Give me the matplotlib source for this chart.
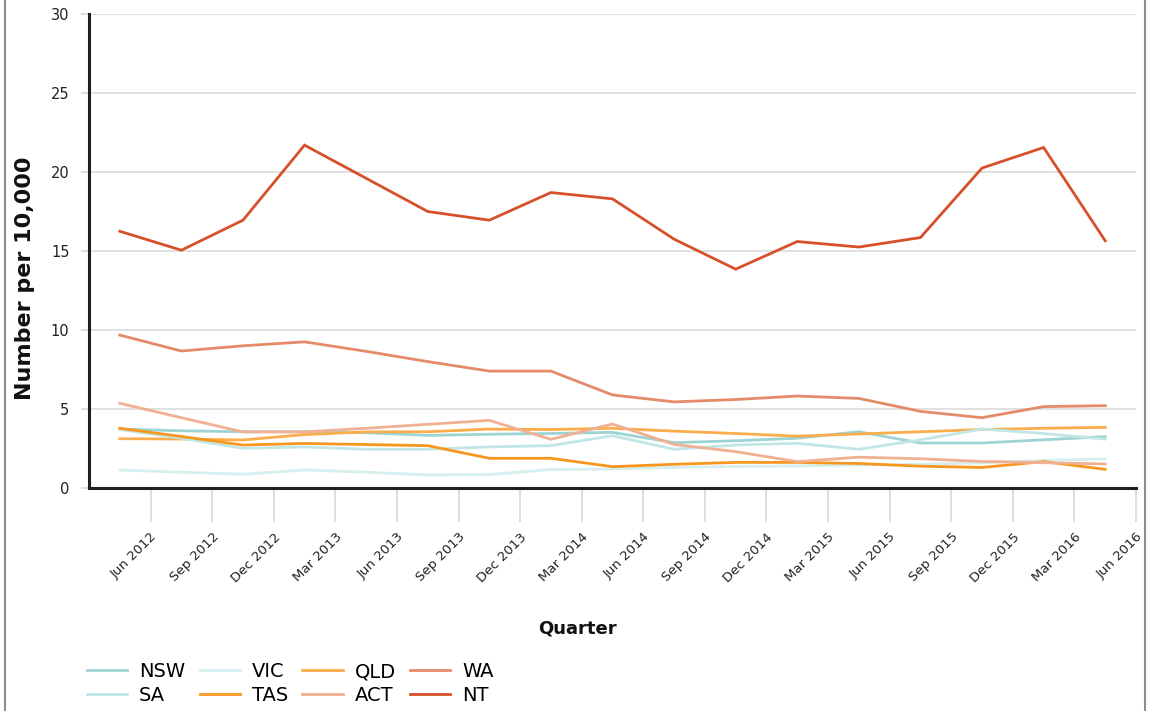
import matplotlib
matplotlib.use('Agg')
import matplotlib.pyplot as plt
import numpy as np
from matplotlib.lines import Line2D

tick_labels = ['Jun 2012', 'Sep 2012', 'Dec 2012', 'Mar 2013', 'Jun 2013', 'Sep 2013',
               'Dec 2013', 'Mar 2014', 'Jun 2014', 'Sep 2014', 'Dec 2014', 'Mar 2015',
               'Jun 2015', 'Sep 2015', 'Dec 2015', 'Mar 2016', 'Jun 2016']

nsw = [3.73, 3.62, 3.56, 3.56, 3.50, 3.33, 3.40, 3.45, 3.52, 2.87, 2.99, 3.15, 3.56, 2.85, 2.85, 3.05, 3.25]
vic = [1.14, 1.00, 0.87, 1.14, 1.00, 0.83, 0.85, 1.17, 1.20, 1.30, 1.36, 1.40, 1.45, 1.50, 1.60, 1.75, 1.84]
qld = [3.12, 3.10, 3.04, 3.38, 3.55, 3.56, 3.73, 3.70, 3.78, 3.60, 3.45, 3.28, 3.42, 3.56, 3.70, 3.78, 3.84]
wa = [9.68, 8.67, 9.00, 9.25, 8.65, 8.00, 7.40, 7.40, 5.89, 5.45, 5.60, 5.82, 5.67, 4.85, 4.45, 5.15, 5.21]
sa = [3.70, 3.15, 2.51, 2.60, 2.45, 2.45, 2.60, 2.68, 3.31, 2.45, 2.72, 2.83, 2.45, 3.05, 3.73, 3.45, 3.10]
tas = [3.78, 3.26, 2.72, 2.82, 2.75, 2.68, 1.88, 1.88, 1.35, 1.50, 1.62, 1.62, 1.55, 1.38, 1.30, 1.67, 1.18]
act = [5.36, 4.45, 3.55, 3.55, 3.78, 4.03, 4.28, 3.08, 4.05, 2.76, 2.30, 1.67, 1.95, 1.85, 1.68, 1.60, 1.52]
nt = [16.25, 15.05, 16.95, 21.70, 19.60, 17.50, 16.95, 18.70, 18.30, 15.75, 13.85, 15.60, 15.25, 15.85, 20.25, 21.55, 15.65]

series = [('NSW', nsw, '#9dd3d2'), ('VIC', vic, '#d6eeee'), ('QLD', qld, '#fbad4c'),
          ('WA', wa, '#e38b69'), ('SA', sa, '#c2e5e5'), ('TAS', tas, '#f8971f'),
          ('ACT', act, '#f0b092'), ('NT', nt, '#d7502a')]

W, H = 1157, 711
fig = plt.figure(figsize=(W / 100, H / 100), dpi=100)
ax = fig.add_axes([89 / W, 1 - 488 / H, (1136 - 89) / W, (488 - 14) / H])

x = np.arange(len(nt)) + 0.5
handles = {}
for name, vals, col in series:
    ln, = ax.plot(x, vals, color=col, lw=2.0, label=name, solid_joinstyle='miter')
    handles[name] = ln

ax.set_xlim(0, 17)
ax.set_ylim(0, 30)
ax.set_yticks(np.arange(0, 31, 5))
ax.set_xticks(np.arange(1, 18))
ax.set_xticklabels(tick_labels, rotation=45, ha='right', va='top', rotation_mode='anchor')
ax.tick_params(axis='y', length=6, color='#d9d9d9', width=1.2, pad=8, labelsize=10.5, labelcolor='#222222')
ax.tick_params(axis='x', length=24.5, color='#d9d9d9', width=1.2, pad=6, labelsize=9.5, labelcolor='#222222')
ax.yaxis.grid(True, color='#dcdcdc', lw=1.2)
ax.set_axisbelow(True)
for s in ['top', 'right']:
    ax.spines[s].set_visible(False)
for s in ['left', 'bottom']:
    ax.spines[s].set_color('#231f20')
    ax.spines[s].set_linewidth(2.2)

ax.set_ylabel('Number per 10,000', fontsize=16, fontweight='bold', color='#111111')
ax.yaxis.set_label_coords((35 - 89) / (1136 - 89), (488 - 278) / (488 - 14))
ax.set_xlabel('Quarter', fontsize=13, fontweight='bold', color='#111111')
ax.xaxis.set_label_coords((577 - 89) / (1136 - 89), (488 - 619) / (488 - 14))

order = ['NSW', 'SA', 'VIC', 'TAS', 'QLD', 'ACT', 'WA', 'NT']
fig.legend([handles[k] for k in order], order, ncol=4, loc='upper left',
           bbox_to_anchor=(86.7 / W, 1 - 662 / H), frameon=False, fontsize=14,
           handlelength=2.06, handletextpad=0.62, columnspacing=0.75,
           labelspacing=0.25, borderpad=0, borderaxespad=0)

for xp in [5, 1145]:
    fig.add_artist(Line2D([xp / W, xp / W], [0, 1], transform=fig.transFigure,
                          color='#8c8c8c', lw=1.5))

fig.savefig('out.png', dpi=100)
